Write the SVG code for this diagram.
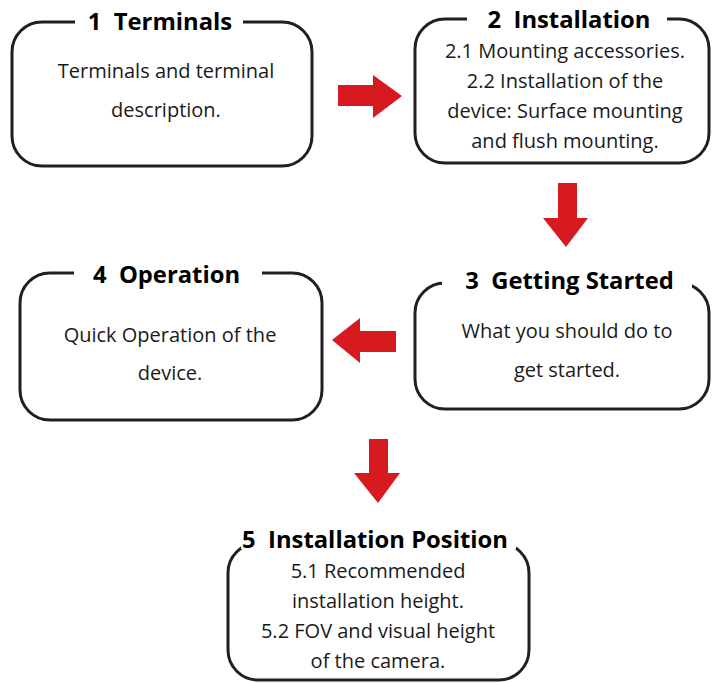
<svg xmlns="http://www.w3.org/2000/svg" width="712" height="683" viewBox="0 0 712 683">
<style>
.box{fill:none;stroke:#231f20;stroke-width:3}
.gap{fill:#fff}
.title{font-family:"Open Sans","Liberation Sans",sans-serif;font-weight:bold;font-size:23.8px;fill:#000;text-anchor:middle}
.body{font-family:"Open Sans","Liberation Sans",sans-serif;font-size:20px;fill:#1a1a1a;text-anchor:middle}
.arrow{fill:#d71920}
</style>
<rect width="712" height="683" fill="#fff"/>
<g id="node1">
<rect class="box" x="12" y="22" width="300" height="144" rx="30"/>
<rect class="gap" x="75" y="10" width="168" height="20"/>
<text class="title" x="160" y="30">1&#160; Terminals</text>
<text class="body" x="166" y="78">Terminals and terminal</text>
<text class="body" x="166" y="117">description.</text>
</g>
<g id="node2">
<rect class="box" x="415" y="19" width="294" height="144" rx="30"/>
<rect class="gap" x="467" y="8" width="200" height="20"/>
<text class="title" x="569" y="28">2&#160; Installation</text>
<text class="body" x="565" y="58">2.1 Mounting accessories.</text>
<text class="body" x="565" y="88">2.2 Installation of the</text>
<text class="body" x="565" y="118">device: Surface mounting</text>
<text class="body" x="565" y="148">and flush mounting.</text>
</g>
<g id="node3">
<rect class="box" x="415" y="283" width="294" height="126" rx="30"/>
<rect class="gap" x="442" y="270" width="250" height="20"/>
<text class="title" x="569.5" y="289">3&#160; Getting Started</text>
<text class="body" x="567" y="338">What you should do to</text>
<text class="body" x="567" y="377">get started.</text>
</g>
<g id="node4">
<rect class="box" x="20" y="273" width="302" height="147" rx="30"/>
<rect class="gap" x="74" y="260" width="188" height="22"/>
<text class="title" x="166.5" y="283">4&#160; Operation</text>
<text class="body" x="170" y="342">Quick Operation of the</text>
<text class="body" x="170" y="380">device.</text>
</g>
<g id="node5">
<rect class="box" x="228" y="543" width="301" height="137" rx="30"/>
<rect class="gap" x="241" y="530" width="275" height="19"/>
<text class="title" x="375" y="548">5&#160; Installation Position</text>
<text class="body" x="378" y="578">5.1 Recommended</text>
<text class="body" x="378" y="608">installation height.</text>
<text class="body" x="378" y="638">5.2 FOV and visual height</text>
<text class="body" x="378" y="668">of the camera.</text>
</g>
<g id="connectors">
<polygon class="arrow" points="338,85 373,85 373,75 402,96 373,118 373,106 338,106"/>
<polygon class="arrow" points="558,183 577,183 577,218 588,218 566,247 543,218 558,218"/>
<polygon class="arrow" points="396,331 360,331 360,318 332,340 360,363 360,352 396,352"/>
<polygon class="arrow" points="369,439 388,439 388,473 400,473 378,503 354,473 369,473"/>
</g>
</svg>
